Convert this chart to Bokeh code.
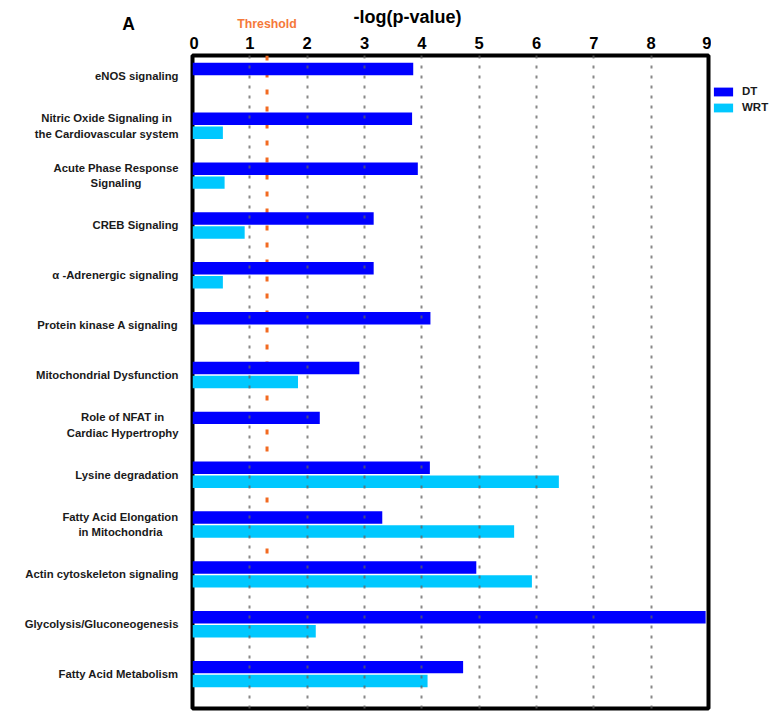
from bokeh.plotting import figure
from bokeh.layouts import row, column
from bokeh.models import ColumnDataSource, Range1d, FixedTicker, Legend, LegendItem, Text
from bokeh.core.properties import value
from bokeh.embed import file_html
from bokeh.resources import INLINE

NAN = float("nan")

# ---------------- data ----------------
pathways = [
    "eNOS signaling",
    "Nitric Oxide Signaling in\nthe Cardiovascular system",
    "Acute Phase Response\nSignaling",
    "CREB Signaling",
    "\u03b1 -Adrenergic signaling",
    "Protein kinase A signaling",
    "Mitochondrial Dysfunction",
    "Role of NFAT in\nCardiac Hypertrophy",
    "Lysine degradation",
    "Fatty Acid Elongation\nin Mitochondria",
    "Actin cytoskeleton signaling",
    "Glycolysis/Gluconeogenesis",
    "Fatty Acid Metabolism",
]
dt_values = [3.85, 3.83, 3.93, 3.16, 3.16, 4.15, 2.91, 2.22, 4.14, 3.31, 4.95, 8.95, 4.72]
wrt_values = [NAN, 0.53, 0.56, 0.91, 0.53, NAN, 1.84, NAN, 6.39, 5.61, 5.92, 2.15, 4.10]
x_ticks = [0, 1, 2, 3, 4, 5, 6, 7, 8, 9]
threshold = 1.3
threshold_last_pathway = "Fatty Acid Elongation\nin Mitochondria"
series_names = ["DT", "WRT"]
series_colors = ["#0000ff", "#00c8ff"]
axis_title = "-log(p-value)"
panel_letter = "A"

# ---------------- layout constants ----------------
FONT_NAME = "Liberation Sans"
FONT = value(FONT_NAME)
TOTAL_W = 778
HEADER_H = 33
ROW_H = 678
TOP = 20
BOTTOM = 3
LEFT_W = 189
BORDER = 3
FRAME_W = 516
BARS_W = FRAME_W + 2 * BORDER
LEG_W = TOTAL_W - LEFT_W - BARS_W

n = len(pathways)
y_pos = [-i for i in range(n)]
y_range = Range1d(start=-(n - 1) - 0.69, end=0.41)
x_range = Range1d(start=0, end=9)
px_per_x = FRAME_W / (x_range.end - x_range.start)
frame_left_px = LEFT_W + BORDER

src = ColumnDataSource(dict(
    y=y_pos,
    y_dt=[y + 0.14 for y in y_pos],
    y_wrt=[y - 0.14 for y in y_pos],
    dt=dt_values,
    wrt=wrt_values,
    label=pathways,
    lx=[178] * n,
))

def bare(fig):
    fig.grid.visible = False
    fig.outline_line_color = None
    return fig

# ---------------- header (titles) sharing the bar chart's x units ----------------
hx_range = Range1d(start=x_range.start - frame_left_px / px_per_x,
                   end=x_range.end + (TOTAL_W - frame_left_px - FRAME_W) / px_per_x)
header = bare(figure(width=TOTAL_W, height=HEADER_H, x_range=hx_range,
                     y_range=Range1d(HEADER_H, 0),
                     output_backend="svg", toolbar_location=None,
                     x_axis_location=None, y_axis_location=None,
                     min_border=0))
header.text(x=[3.75], y=[16], text=[axis_title], text_font=FONT, text_font_style="bold",
            text_font_size="18px", text_color="black", text_align="center",
            text_baseline="middle")
header.text(x=[threshold], y=[23], text=["Threshold"], text_font=FONT, text_font_style="bold",
            text_font_size="12.3px", text_color="#f5793a", text_align="center",
            text_baseline="middle")
header.text(x=[(128 - frame_left_px) / px_per_x], y=[23.5], text=[panel_letter], text_font=FONT,
            text_font_style="bold", text_font_size="17.5px", text_color="black",
            text_align="center", text_baseline="middle")

# ---------------- left figure with the pathway labels ----------------
pl = bare(figure(width=LEFT_W, height=ROW_H, x_range=Range1d(0, LEFT_W), y_range=y_range,
                 output_backend="svg", toolbar_location=None,
                 x_axis_location=None, y_axis_location=None,
                 min_border_left=0, min_border_right=0, min_border_top=TOP,
                 min_border_bottom=BOTTOM))
text_kwargs = dict(x="lx", y="y", text="label", source=src, text_font=FONT,
                   text_font_style="bold", text_font_size="11.3px", text_color="#1a1a1a",
                   text_align="center", text_baseline="middle", text_line_height=1.3)
if "anchor" in Text.properties():
    text_kwargs["anchor"] = "center_right"
else:
    text_kwargs["text_align"] = "right"
pl.text(**text_kwargs)

# ---------------- bar chart ----------------
p = figure(width=BARS_W, height=ROW_H, x_range=x_range, y_range=y_range,
           output_backend="svg", toolbar_location=None,
           x_axis_location="above", y_axis_location=None,
           min_border_left=BORDER, min_border_right=BORDER, min_border_top=TOP,
           min_border_bottom=BOTTOM)

thr_idx = pathways.index(threshold_last_pathway)
p.segment(x0=[threshold], y0=[y_range.end], x1=[threshold], y1=[-thr_idx - 0.69],
          line_color="#f26a21", line_width=3, line_dash="5 12")

p.hbar(y="y_dt", left=0, right="dt", height=0.25, source=src,
       fill_color=series_colors[0], line_color=None)
p.hbar(y="y_wrt", left=0, right="wrt", height=0.25, source=src,
       fill_color=series_colors[1], line_color=None)

p.ygrid.visible = False
p.xgrid.ticker = FixedTicker(ticks=x_ticks[1:-1])
p.xgrid.grid_line_color = "#606060"
p.xgrid.grid_line_alpha = 0.75
p.xgrid.grid_line_width = 2
p.xgrid.grid_line_dash = "3 7"
p.xgrid.level = "overlay"

p.outline_line_color = "black"
p.outline_line_width = 4
p.outline_line_alpha = 1

ax = p.xaxis[0]
ax.ticker = FixedTicker(ticks=x_ticks)
ax.axis_line_color = None
ax.major_tick_line_color = None
ax.minor_tick_line_color = None
ax.major_label_standoff = 1
ax.major_label_text_font = FONT_NAME
ax.major_label_text_font_style = "bold"
ax.major_label_text_font_size = "16.5px"
ax.major_label_text_color = "black"

# ---------------- legend figure (zero-size proxy bars, only their swatches show) ----------------
pg = bare(figure(width=LEG_W, height=ROW_H, x_range=Range1d(0, 1), y_range=Range1d(0, 1),
                 output_backend="svg", toolbar_location=None,
                 x_axis_location=None, y_axis_location=None,
                 min_border_left=0, min_border_right=0, min_border_top=TOP,
                 min_border_bottom=BOTTOM))
leg_renderers = [pg.hbar(y=[0.5], left=[0], right=[0], height=0, fill_color=c, line_color=None)
                 for c in series_colors]
frame_h = ROW_H - TOP - BOTTOM
legend = Legend(items=[LegendItem(label=nm, renderers=[r])
                       for nm, r in zip(series_names, leg_renderers)],
                location=(0, frame_h - 30 - 30), orientation="vertical",
                glyph_width=24, glyph_height=11, label_height=12, label_standoff=7,
                spacing=4, padding=1, margin=0, border_line_color=None,
                background_fill_alpha=0,
                label_text_font=FONT_NAME, label_text_font_style="bold",
                label_text_font_size="11.5px", label_text_color="#1a1a1a")
pg.add_layout(legend)

layout = column(header, row(pl, p, pg))
open("out.html", "w").write(file_html(layout, INLINE))
